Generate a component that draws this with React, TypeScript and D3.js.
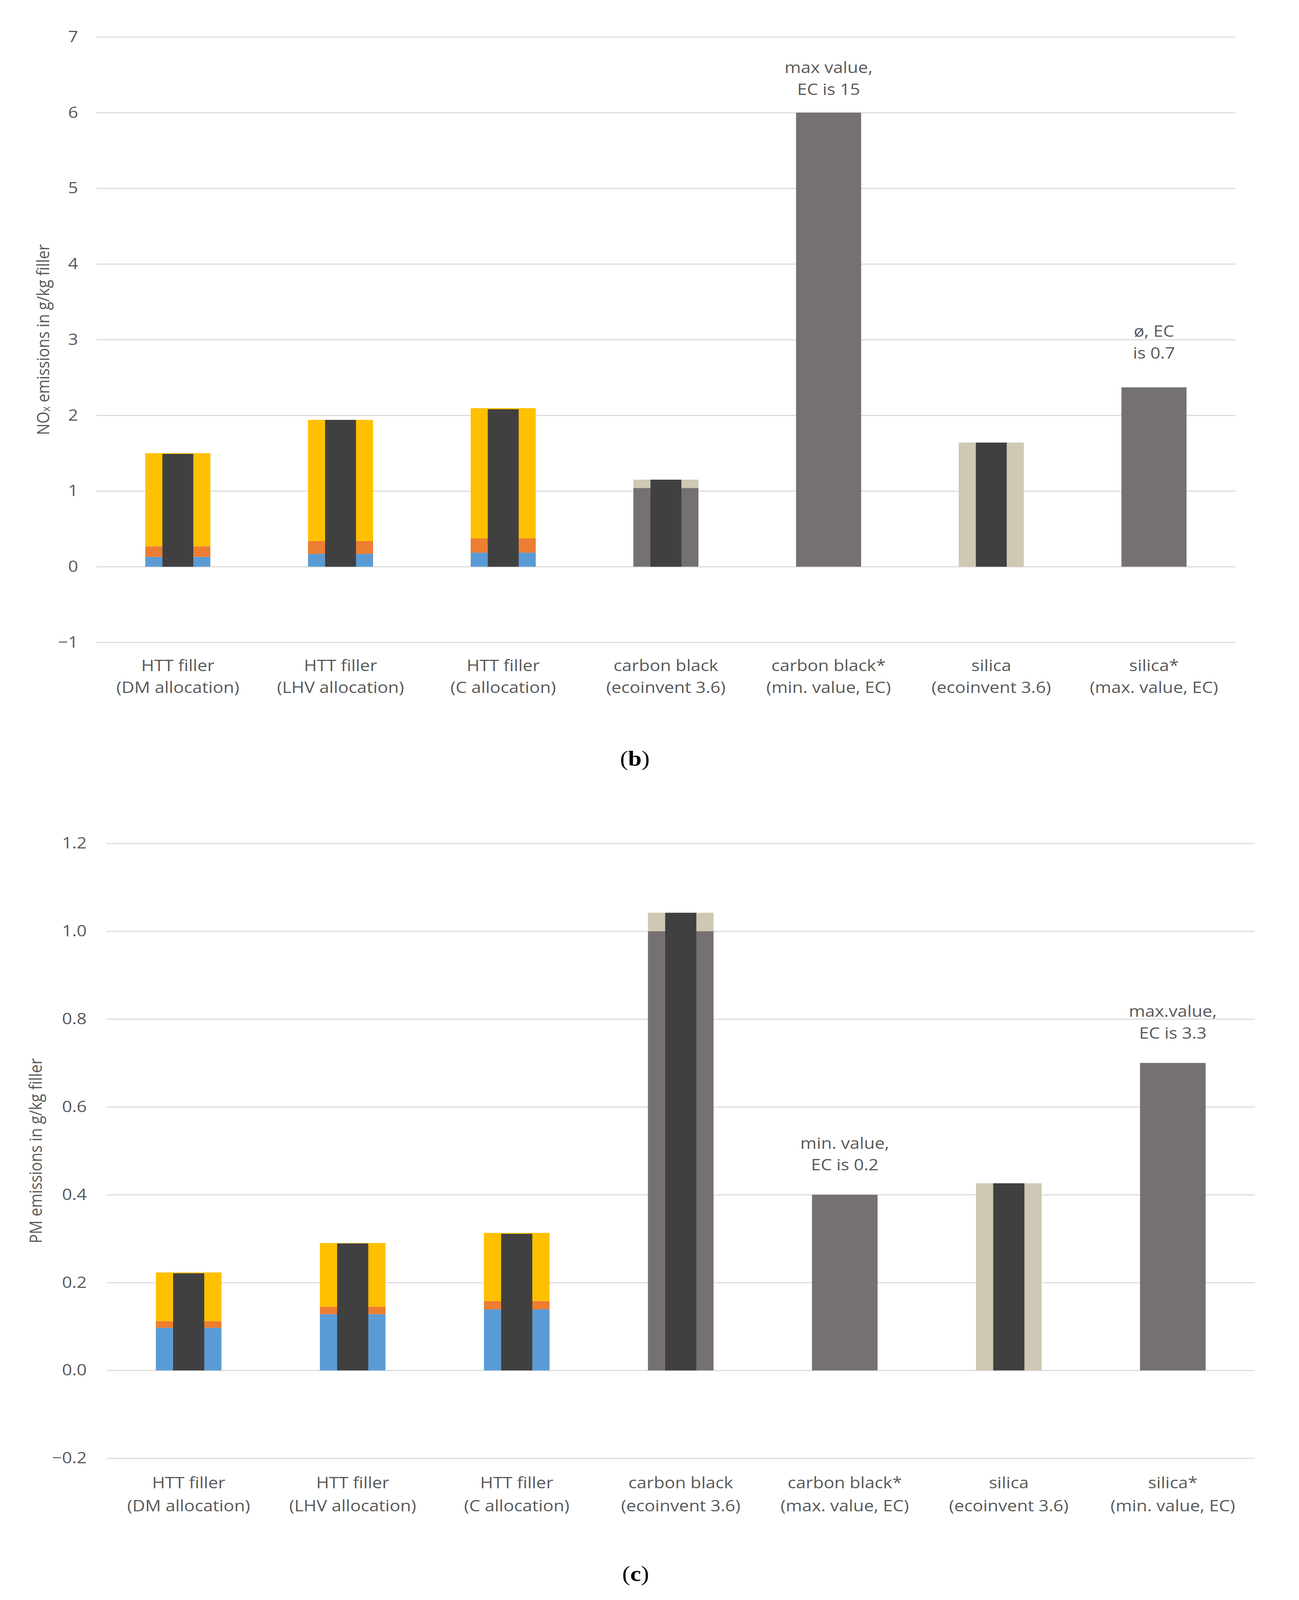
import React, { useEffect, useRef } from 'react';
import * as d3 from 'd3';

// categories (two label lines split by '|')
const noxCategories = [
  'HTT filler|(DM allocation)',
  'HTT filler|(LHV allocation)',
  'HTT filler|(C allocation)',
  'carbon black|(ecoinvent 3.6)',
  'carbon black*|(min. value, EC)',
  'silica|(ecoinvent 3.6)',
  'silica*|(max. value, EC)',
];
const pmCategories = [
  'HTT filler|(DM allocation)',
  'HTT filler|(LHV allocation)',
  'HTT filler|(C allocation)',
  'carbon black|(ecoinvent 3.6)',
  'carbon black*|(max. value, EC)',
  'silica|(ecoinvent 3.6)',
  'silica*|(min. value, EC)',
];

// stacked segments of the wide bars, NOx (g/kg filler)
const noxBlue = [0.13, 0.17, 0.185, 0, 0, 0, 0];
const noxOrange = [0.14, 0.17, 0.19, 0, 0, 0, 0];
const noxYellow = [1.23, 1.6, 1.72, 0, 0, 0, 0];
const noxGrey = [0, 0, 0, 1.04, 6.0, 0, 2.37];
const noxBeige = [0, 0, 0, 0.11, 0, 1.64, 0];
// narrow dark bar (total)
const noxTotal = [1.49, 1.94, 2.08, 1.15, null, 1.64, null];
const noxTicks = [-1, 0, 1, 2, 3, 4, 5, 6, 7];
const noxNotes = [
  { index: 4, lines: ['max value,', 'EC is 15'] },
  { index: 6, lines: ['ø, EC', 'is 0.7'] },
];

// PM (g/kg filler)
const pmBlue = [0.097, 0.128, 0.139, 0, 0, 0, 0];
const pmOrange = [0.015, 0.017, 0.019, 0, 0, 0, 0];
const pmYellow = [0.111, 0.145, 0.155, 0, 0, 0, 0];
const pmGrey = [0, 0, 0, 1.0, 0.4, 0, 0.7];
const pmBeige = [0, 0, 0, 0.042, 0, 0.426, 0];
const pmTotal = [0.221, 0.289, 0.311, 1.042, null, 0.426, null];
const pmTicks = [-0.2, 0, 0.2, 0.4, 0.6, 0.8, 1.0, 1.2];
const pmNotes = [
  { index: 4, lines: ['min. value,', 'EC is 0.2'] },
  { index: 6, lines: ['max.value,', 'EC is 3.3'] },
];

const keys = ['blue', 'orange', 'yellow', 'grey', 'beige'];
const colors: Record<string, string> = {
  blue: '#5B9BD5',
  orange: '#ED7D31',
  yellow: '#FFC000',
  grey: '#767171',
  beige: '#CFC8B4',
  dark: '#404040',
};
const textColor = '#595959';
const gridColor = '#D9D9D9';
const font = "'Open Sans', sans-serif";

type Note = { index: number; lines: string[] };
type ChartSpec = {
  categories: string[];
  segments: number[][];
  total: (number | null)[];
  ticks: number[];
  tickFormat: (n: number) => string;
  notes: Note[];
  titleSub: [string, string, string];
  layout: {
    left: number;
    right: number;
    top: number;
    bottom: number;
    tickX: number;
    titleX: number;
    labelY: number;
    labelGap: number;
    noteGaps: number[];
  };
};

const drawChart = (g: SVGGElement, spec: ChartSpec) => {
  const { categories, segments, total, ticks, tickFormat, notes, layout } = spec;
  const root = d3.select(g);
  root.selectAll('*').remove();

  const x = d3
    .scaleBand<string>()
    .domain(categories)
    .range([layout.left, layout.right])
    .padding(0);
  const y = d3
    .scaleLinear()
    .domain([ticks[0], ticks[ticks.length - 1]])
    .range([layout.bottom, layout.top]);
  const bw = x.bandwidth();
  const outerW = bw * 0.4;
  const innerW = bw * 0.19;

  // gridlines + tick labels
  const axis = d3
    .axisLeft(y)
    .tickValues(ticks)
    .tickSize(-(layout.right - layout.left))
    .tickPadding(layout.left - layout.tickX)
    .tickFormat((d) => tickFormat(d as number));
  const axisG = root
    .append('g')
    .attr('transform', `translate(${layout.left},0)`)
    .call(axis);
  axisG.select('.domain').remove();
  axisG.selectAll('line').attr('stroke', gridColor).attr('stroke-width', 3);
  axisG.attr('font-family', font).attr('font-size', 45);
  axisG.selectAll('text').attr('fill', textColor);

  // stacked wide bars
  const table = categories.map((c, i) => {
    const row: Record<string, any> = { cat: c };
    keys.forEach((k, j) => (row[k] = segments[j][i]));
    return row;
  });
  const stack = d3.stack<Record<string, any>>().keys(keys)(table);
  root
    .append('g')
    .selectAll('g')
    .data(stack)
    .join('g')
    .attr('fill', (d) => colors[d.key])
    .selectAll('rect')
    .data((d) => d.filter((s) => s[1] - s[0] > 0))
    .join('rect')
    .attr('x', (d) => (x(d.data.cat) as number) + (bw - outerW) / 2)
    .attr('width', outerW)
    .attr('y', (d) => y(d[1]))
    .attr('height', (d) => y(d[0]) - y(d[1]));

  // narrow dark bars
  const totals = categories
    .map((c, i) => ({ cat: c, v: total[i] }))
    .filter((d) => d.v !== null) as { cat: string; v: number }[];
  root
    .append('g')
    .selectAll('rect')
    .data(totals)
    .join('rect')
    .attr('fill', colors.dark)
    .attr('x', (d) => (x(d.cat) as number) + (bw - innerW) / 2)
    .attr('width', innerW)
    .attr('y', (d) => y(d.v))
    .attr('height', (d) => y(0) - y(d.v));

  // category labels
  const labels = root
    .append('g')
    .attr('font-family', font)
    .attr('font-size', 45)
    .attr('fill', textColor)
    .attr('text-anchor', 'middle');
  categories.forEach((c) => {
    c.split('|').forEach((line, li) => {
      labels
        .append('text')
        .attr('x', (x(c) as number) + bw / 2)
        .attr('y', layout.labelY + li * layout.labelGap)
        .text(line);
    });
  });

  // annotations above bars
  notes.forEach((n, ni) => {
    const c = categories[n.index];
    let top = 0;
    segments.forEach((s) => (top += s[n.index]));
    const baseY = y(top) - layout.noteGaps[ni];
    n.lines.forEach((line, li) => {
      labels
        .append('text')
        .attr('x', (x(c) as number) + bw / 2)
        .attr('y', baseY + li * 62)
        .text(line);
    });
  });

  // y axis title
  const [pre, sub, post] = spec.titleSub;
  const title = root
    .append('text')
    .attr('transform', `translate(${layout.titleX},${(layout.top + layout.bottom) / 2}) rotate(-90)`)
    .attr('text-anchor', 'middle')
    .attr('dominant-baseline', 'central')
    .attr('font-family', font)
    .attr('font-size', 44)
    .attr('fill', textColor);
  title.append('tspan').text(pre);
  if (sub) {
    title.append('tspan').attr('font-size', 29).attr('dy', 8).text(sub);
    title.append('tspan').attr('dy', -8).text(post);
  }
};

const noxSpec: ChartSpec = {
  categories: noxCategories,
  segments: [noxBlue, noxOrange, noxYellow, noxGrey, noxBeige],
  total: noxTotal,
  ticks: noxTicks,
  tickFormat: d3.format('d'),
  notes: noxNotes,
  titleSub: ['NO', 'x', ' emissions in g/kg filler'],
  layout: {
    left: 247,
    right: 3162,
    top: 106,
    bottom: 1844,
    tickX: 200,
    titleX: 108,
    labelY: 1927,
    labelGap: 62,
    noteGaps: [113, 145],
  },
};

const pmSpec: ChartSpec = {
  categories: pmCategories,
  segments: [pmBlue, pmOrange, pmYellow, pmGrey, pmBeige],
  total: pmTotal,
  ticks: pmTicks,
  tickFormat: d3.format('.1f'),
  notes: pmNotes,
  titleSub: ['PM emissions in g/kg filler', '', ''],
  layout: {
    left: 273,
    right: 3212,
    top: 2421,
    bottom: 4186,
    tickX: 222,
    titleX: 89,
    labelY: 4272,
    labelGap: 66,
    noteGaps: [132, 132],
  },
};

// the figure is 3325x4593; the viewport may be shorter, so the drawing is
// fitted to the visible window
const W = 3325;
const H = 4593;

export default function App() {
  const noxRef = useRef<SVGGElement>(null);
  const pmRef = useRef<SVGGElement>(null);

  useEffect(() => {
    if (noxRef.current) drawChart(noxRef.current, noxSpec);
    if (pmRef.current) drawChart(pmRef.current, pmSpec);
  }, []);

  const serif = "'Liberation Serif', 'DejaVu Serif', serif";
  return (
    <>
      <style>{'body{margin:0;overflow:hidden}'}</style>
      <svg
        viewBox={`0 0 ${W} ${H}`}
        preserveAspectRatio="none"
        style={{ display: 'block', width: '100vw', height: '100vh', background: '#fff' }}
      >
        <g ref={noxRef} />
        <g ref={pmRef} />
        <text x={1625} y={2198} textAnchor="middle" fontFamily={serif} fontSize={62} fill="#000">
          (<tspan fontWeight="bold">b</tspan>)
        </text>
        <text x={1627} y={4538} textAnchor="middle" fontFamily={serif} fontSize={62} fill="#000">
          (<tspan fontWeight="bold">c</tspan>)
        </text>
      </svg>
    </>
  );
}
